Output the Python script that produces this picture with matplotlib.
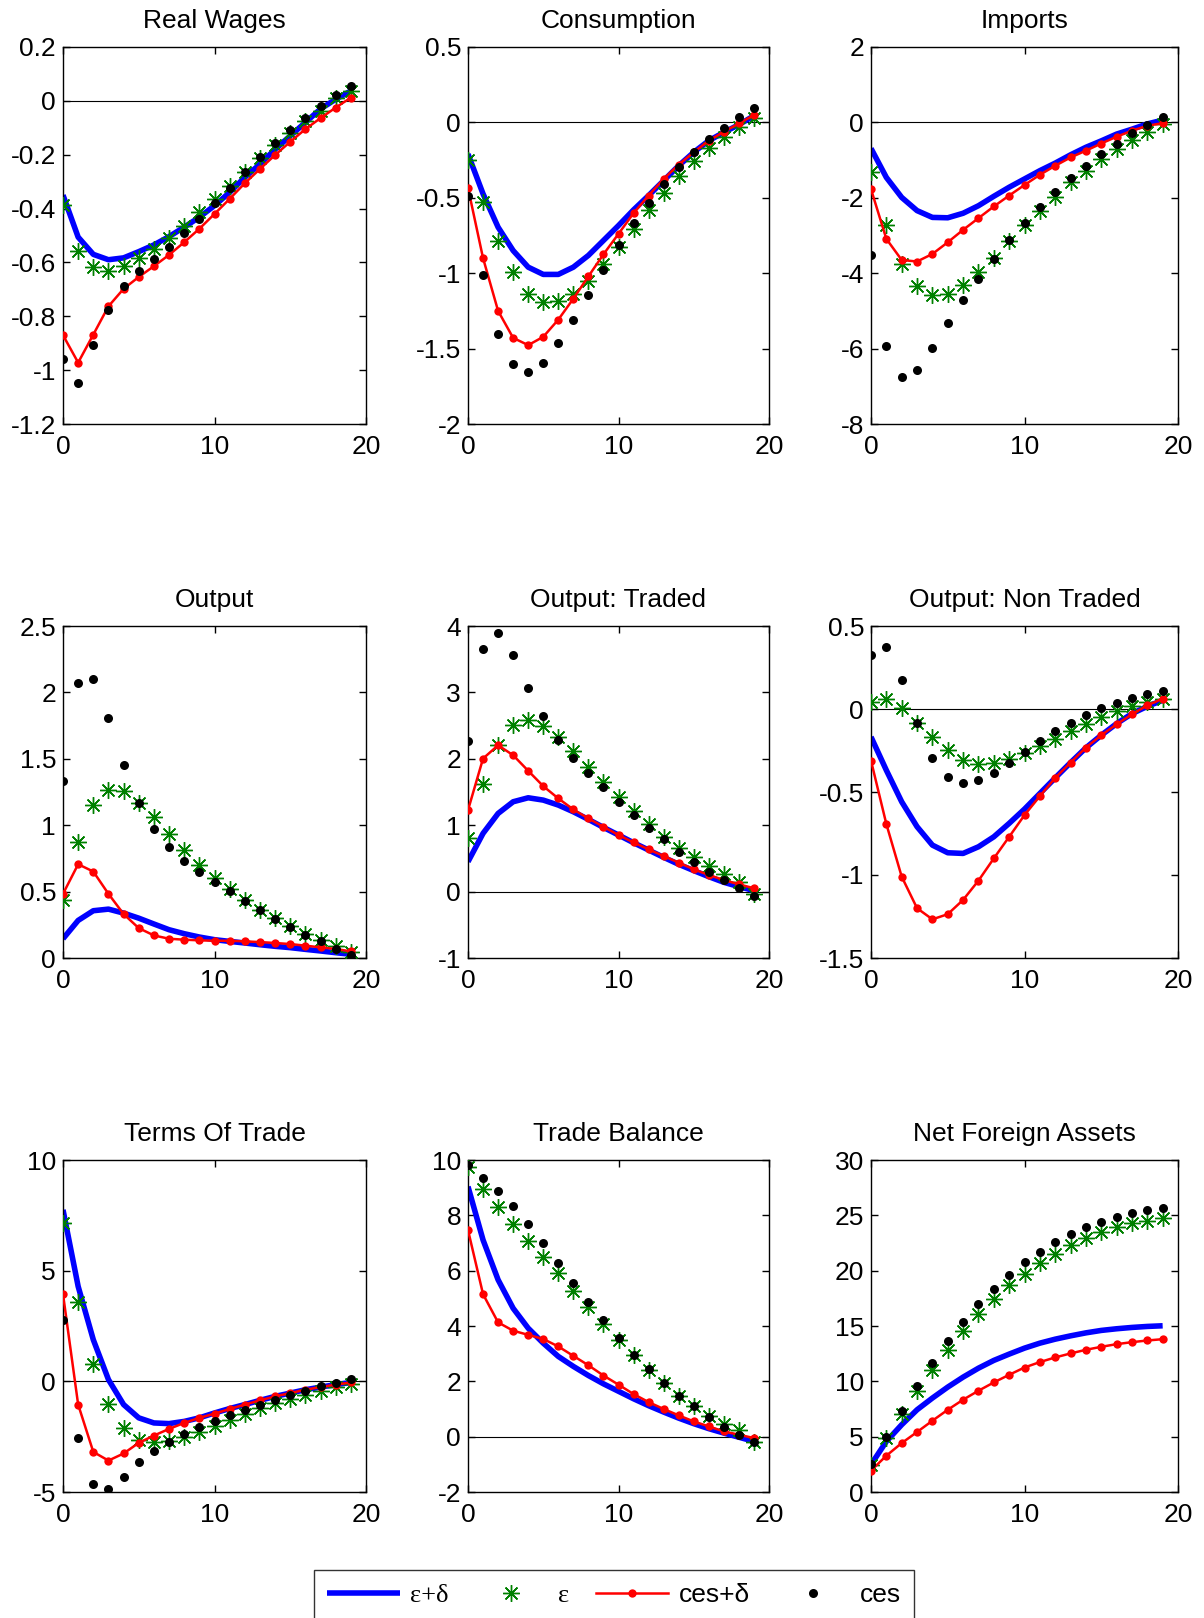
import numpy as np
import matplotlib
matplotlib.use("Agg")
import matplotlib.pyplot as plt

plt.rcParams['font.family'] = ['Liberation Sans', 'DejaVu Sans']
plt.rcParams['axes.unicode_minus'] = False

periods = list(range(20))

titles = ["Real Wages", "Consumption", "Imports",
          "Output", "Output: Traded", "Output: Non Traded",
          "Terms Of Trade", "Trade Balance", "Net Foreign Assets"]

series_labels = ["ε+δ", "ε", "ces+δ", "ces"]

# ---------- Real Wages ----------
rw_eps_delta = [-0.35, -0.506, -0.57, -0.59, -0.583, -0.56, -0.535, -0.504, -0.469, -0.432,
                -0.389, -0.34, -0.284, -0.235, -0.18, -0.13, -0.08, -0.03, 0.006, 0.037]
rw_eps = [-0.386, -0.556, -0.617, -0.632, -0.615, -0.584, -0.549, -0.509, -0.463, -0.411,
          -0.365, -0.316, -0.265, -0.212, -0.163, -0.119, -0.074, -0.037, 0.01, 0.037]
rw_ces_delta = [-0.87, -0.972, -0.868, -0.763, -0.698, -0.654, -0.614, -0.572, -0.525, -0.475,
                -0.42, -0.364, -0.306, -0.253, -0.201, -0.152, -0.105, -0.064, -0.025, 0.012]
rw_ces = [-0.96, -1.047, -0.907, -0.775, -0.689, -0.633, -0.589, -0.543, -0.491, -0.438,
          -0.38, -0.323, -0.265, -0.21, -0.157, -0.107, -0.062, -0.019, 0.021, 0.057]

# ---------- Consumption ----------
c_eps_delta = [-0.21, -0.474, -0.695, -0.85, -0.96, -1.008, -1.008, -0.96, -0.882, -0.783,
               -0.684, -0.58, -0.485, -0.386, -0.287, -0.198, -0.121, -0.066, -0.015, 0.044]
c_eps = [-0.247, -0.525, -0.787, -0.992, -1.136, -1.19, -1.186, -1.136, -1.054, -0.937,
         -0.827, -0.706, -0.584, -0.467, -0.357, -0.258, -0.172, -0.095, -0.029, 0.029]
c_ces_delta = [-0.434, -0.9, -1.25, -1.429, -1.477, -1.422, -1.308, -1.169, -1.021, -0.875,
               -0.739, -0.602, -0.485, -0.375, -0.28, -0.198, -0.121, -0.062, -0.007, 0.049]
c_ces = [-0.485, -1.014, -1.4, -1.605, -1.658, -1.594, -1.466, -1.312, -1.142, -0.977,
         -0.816, -0.668, -0.534, -0.408, -0.293, -0.198, -0.11, -0.037, 0.033, 0.093]

# ---------- Imports ----------
im_eps_delta = [-0.69, -1.46, -1.99, -2.34, -2.52, -2.53, -2.41, -2.21, -1.96, -1.72,
                -1.5, -1.28, -1.08, -0.86, -0.66, -0.49, -0.31, -0.18, -0.04, 0.06]
im_eps = [-1.32, -2.71, -3.75, -4.35, -4.59, -4.56, -4.32, -3.97, -3.6, -3.15,
          -2.71, -2.34, -1.97, -1.59, -1.28, -0.97, -0.71, -0.47, -0.25, -0.04]
im_ces_delta = [-1.77, -3.09, -3.65, -3.69, -3.49, -3.18, -2.85, -2.54, -2.23, -1.94,
                -1.66, -1.39, -1.15, -0.93, -0.75, -0.56, -0.38, -0.22, -0.09, -0.02]
im_ces = [-3.51, -5.93, -6.75, -6.58, -5.98, -5.32, -4.7, -4.15, -3.62, -3.13,
          -2.67, -2.25, -1.85, -1.48, -1.15, -0.84, -0.56, -0.29, -0.06, 0.15]

# ---------- Output ----------
y_eps_delta = [0.145, 0.283, 0.356, 0.368, 0.338, 0.3, 0.256, 0.213, 0.183, 0.158,
               0.138, 0.125, 0.113, 0.1, 0.088, 0.078, 0.065, 0.053, 0.04, 0.028]
y_eps = [0.438, 0.872, 1.152, 1.265, 1.26, 1.17, 1.06, 0.934, 0.814, 0.701,
         0.606, 0.519, 0.433, 0.363, 0.3, 0.238, 0.183, 0.133, 0.088, 0.045]
y_ces_delta = [0.483, 0.706, 0.651, 0.483, 0.331, 0.225, 0.17, 0.145, 0.138, 0.133,
               0.13, 0.13, 0.125, 0.12, 0.113, 0.105, 0.093, 0.08, 0.068, 0.05]
y_ces = [1.333, 2.072, 2.104, 1.804, 1.453, 1.17, 0.972, 0.839, 0.734, 0.651,
         0.576, 0.501, 0.431, 0.363, 0.296, 0.233, 0.175, 0.125, 0.07, 0.02]

# ---------- Output: Traded ----------
yt_eps_delta = [0.45, 0.877, 1.177, 1.353, 1.413, 1.378, 1.303, 1.202, 1.087, 0.967,
                0.852, 0.736, 0.626, 0.516, 0.411, 0.316, 0.225, 0.14, 0.075, 0.015]
yt_eps = [0.802, 1.628, 2.204, 2.505, 2.58, 2.495, 2.33, 2.114, 1.869, 1.653,
          1.428, 1.212, 1.012, 0.827, 0.661, 0.516, 0.386, 0.266, 0.15, -0.03]
yt_ces_delta = [1.227, 2.004, 2.204, 2.054, 1.819, 1.588, 1.403, 1.237, 1.102, 0.977,
                0.852, 0.741, 0.636, 0.536, 0.436, 0.336, 0.25, 0.175, 0.11, 0.05]
yt_ces = [2.27, 3.647, 3.898, 3.557, 3.071, 2.64, 2.29, 2.014, 1.789, 1.568,
          1.353, 1.152, 0.952, 0.787, 0.601, 0.451, 0.301, 0.175, 0.05, -0.065]

# ---------- Output: Non Traded ----------
yn_eps_delta = [-0.168, -0.369, -0.559, -0.709, -0.82, -0.866, -0.87, -0.83, -0.77, -0.689,
                -0.603, -0.509, -0.415, -0.323, -0.234, -0.158, -0.088, -0.028, 0.016, 0.052]
yn_eps = [0.042, 0.058, 0.008, -0.084, -0.168, -0.248, -0.305, -0.329, -0.325, -0.299,
          -0.265, -0.222, -0.182, -0.134, -0.088, -0.048, -0.014, 0.016, 0.042, 0.062]
yn_ces_delta = [-0.311, -0.693, -1.01, -1.2, -1.267, -1.236, -1.15, -1.034, -0.9, -0.77,
                -0.639, -0.525, -0.415, -0.323, -0.232, -0.158, -0.092, -0.032, 0.022, 0.062]
yn_ces = [0.327, 0.373, 0.172, -0.084, -0.293, -0.409, -0.445, -0.429, -0.385, -0.325,
          -0.259, -0.194, -0.134, -0.084, -0.034, 0.006, 0.038, 0.068, 0.092, 0.108]

# ---------- Terms Of Trade ----------
tot_eps_delta = [7.75, 4.29, 1.88, 0.08, -1.05, -1.65, -1.88, -1.91, -1.81, -1.65,
                 -1.43, -1.23, -1.05, -0.86, -0.68, -0.53, -0.38, -0.26, -0.15, -0.05]
tot_eps = [7.15, 3.57, 0.8, -1.01, -2.11, -2.63, -2.75, -2.71, -2.51, -2.3,
           -2.03, -1.73, -1.46, -1.2, -0.98, -0.8, -0.6, -0.45, -0.26, -0.11]
tot_ces_delta = [3.94, -1.05, -3.19, -3.58, -3.26, -2.78, -2.45, -2.15, -1.88, -1.65,
                 -1.46, -1.25, -1.05, -0.86, -0.68, -0.53, -0.38, -0.26, -0.15, -0.05]
tot_ces = [2.78, -2.56, -4.66, -4.86, -4.32, -3.66, -3.13, -2.74, -2.36, -2.08,
           -1.81, -1.53, -1.28, -1.05, -0.83, -0.6, -0.42, -0.23, -0.08, 0.11]

# ---------- Trade Balance ----------
tb_eps_delta = [9.04, 7.11, 5.67, 4.64, 3.92, 3.38, 2.9, 2.54, 2.21, 1.91,
                1.64, 1.37, 1.12, 0.89, 0.67, 0.47, 0.29, 0.13, -0.02, -0.17]
tb_eps = [9.76, 8.94, 8.29, 7.69, 7.09, 6.51, 5.91, 5.28, 4.67, 4.08,
          3.5, 2.94, 2.42, 1.94, 1.48, 1.1, 0.76, 0.47, 0.23, -0.2]
tb_ces_delta = [7.47, 5.15, 4.13, 3.83, 3.68, 3.53, 3.26, 2.92, 2.58, 2.21,
                1.88, 1.54, 1.25, 1.0, 0.77, 0.55, 0.37, 0.19, 0.07, -0.05]
tb_ces = [9.82, 9.34, 8.88, 8.34, 7.69, 6.99, 6.29, 5.57, 4.85, 4.2,
          3.56, 2.96, 2.44, 1.94, 1.48, 1.1, 0.71, 0.34, 0.07, -0.2]

# ---------- Net Foreign Assets ----------
nfa_eps_delta = [2.47, 4.57, 6.08, 7.43, 8.49, 9.48, 10.38, 11.19, 11.89, 12.46,
                 13.0, 13.45, 13.81, 14.11, 14.38, 14.6, 14.75, 14.87, 14.96, 15.02]
nfa_eps = [2.47, 4.88, 7.07, 9.09, 11.04, 12.85, 14.56, 16.07, 17.42, 18.66,
           19.71, 20.67, 21.49, 22.33, 22.93, 23.47, 23.92, 24.29, 24.53, 24.74]
nfa_ces_delta = [1.93, 3.28, 4.42, 5.42, 6.44, 7.43, 8.34, 9.15, 9.9, 10.59,
                 11.25, 11.74, 12.16, 12.52, 12.85, 13.12, 13.36, 13.54, 13.69, 13.81]
nfa_ces = [2.56, 4.94, 7.28, 9.54, 11.65, 13.6, 15.35, 16.97, 18.36, 19.62,
           20.76, 21.73, 22.57, 23.29, 23.92, 24.44, 24.89, 25.22, 25.49, 25.64]

panels = [
    (rw_eps_delta, rw_eps, rw_ces_delta, rw_ces),
    (c_eps_delta, c_eps, c_ces_delta, c_ces),
    (im_eps_delta, im_eps, im_ces_delta, im_ces),
    (y_eps_delta, y_eps, y_ces_delta, y_ces),
    (yt_eps_delta, yt_eps, yt_ces_delta, yt_ces),
    (yn_eps_delta, yn_eps, yn_ces_delta, yn_ces),
    (tot_eps_delta, tot_eps, tot_ces_delta, tot_ces),
    (tb_eps_delta, tb_eps, tb_ces_delta, tb_ces),
    (nfa_eps_delta, nfa_eps, nfa_ces_delta, nfa_ces),
]

y_limits = [(-1.2, 0.2), (-2, 0.5), (-8, 2),
            (0, 2.5), (-1, 4), (-1.5, 0.5),
            (-5, 10), (-2, 10), (0, 30)]
y_ticks = [[-1.2, -1, -0.8, -0.6, -0.4, -0.2, 0, 0.2],
           [-2, -1.5, -1, -0.5, 0, 0.5],
           [-8, -6, -4, -2, 0, 2],
           [0, 0.5, 1, 1.5, 2, 2.5],
           [-1, 0, 1, 2, 3, 4],
           [-1.5, -1, -0.5, 0, 0.5],
           [-5, 0, 5, 10],
           [-2, 0, 2, 4, 6, 8, 10],
           [0, 5, 10, 15, 20, 25, 30]]
y_ticklabels = [["-1.2", "-1", "-0.8", "-0.6", "-0.4", "-0.2", "0", "0.2"],
                ["-2", "-1.5", "-1", "-0.5", "0", "0.5"],
                ["-8", "-6", "-4", "-2", "0", "2"],
                ["0", "0.5", "1", "1.5", "2", "2.5"],
                ["-1", "0", "1", "2", "3", "4"],
                ["-1.5", "-1", "-0.5", "0", "0.5"],
                ["-5", "0", "5", "10"],
                ["-2", "0", "2", "4", "6", "8", "10"],
                ["0", "5", "10", "15", "20", "25", "30"]]
x_ticks = [0, 10, 20]
x_ticklabels = ["0", "10", "20"]

W, H = 1204, 1618
fig = plt.figure(figsize=(W / 100, H / 100), dpi=100)

col_left = [63, 468, 871]
col_width = [303, 301, 307]
row_top = [47, 626, 1160]
row_bottom = [424, 958, 1492]

BLUE = (0, 0, 1)
GREEN = (0, 0.5, 0)
RED = (1, 0, 0)
FS = 19

handles = None
for i, (title, data) in enumerate(zip(titles, panels)):
    r, c = divmod(i, 3)
    ax = fig.add_axes([col_left[c] / W, 1 - row_bottom[r] / H,
                       col_width[c] / W, (row_bottom[r] - row_top[r]) / H])
    ed, e, cd, cs = data
    ax.plot([0, 20], [0, 0], color='black', lw=0.8, zorder=1)
    h1, = ax.plot(periods, ed, color=BLUE, lw=4.0, solid_capstyle='butt', zorder=2)
    h2, = ax.plot(periods, e, linestyle='none', marker=(8, 2, 0), markersize=12,
                  markeredgewidth=1.0, color=GREEN, zorder=3)
    h3, = ax.plot(periods, cd, color=RED, lw=1.8, marker='o', markersize=6,
                  markeredgewidth=0, zorder=4)
    h4, = ax.plot(periods, cs, linestyle='none', marker='o', markersize=6.5,
                  markeredgewidth=0, color='black', zorder=5)
    if handles is None:
        handles = [h1, h2, h3, h4]
    ax.set_xlim(0, 20)
    ax.set_ylim(*y_limits[i])
    ax.set_xticks(x_ticks)
    ax.set_xticklabels(x_ticklabels)
    ax.set_yticks(y_ticks[i])
    ax.set_yticklabels(y_ticklabels[i])
    ax.tick_params(direction='in', top=True, right=True, length=5, width=1,
                   labelsize=FS)
    ax.tick_params(axis='x', pad=8)
    ax.tick_params(axis='y', pad=5)
    for sp in ax.spines.values():
        sp.set_linewidth(1.0)
    ax.set_title(title, fontsize=FS, pad=14)

leg = fig.legend(handles, series_labels, loc='upper left',
                 bbox_to_anchor=(314 / W, 1 - 1570 / H), ncol=4,
                 fontsize=FS, frameon=True, fancybox=False, edgecolor='black',
                 handlelength=2.75, handletextpad=0.4, columnspacing=1.0,
                 borderpad=0.5, borderaxespad=0)
leg.get_frame().set_linewidth(1.0)
for t in leg.get_texts():
    if t.get_text() in ("ε+δ", "ε"):
        t.set_family(['Liberation Serif', 'DejaVu Serif'])

fig.savefig("out.png", dpi=100)
